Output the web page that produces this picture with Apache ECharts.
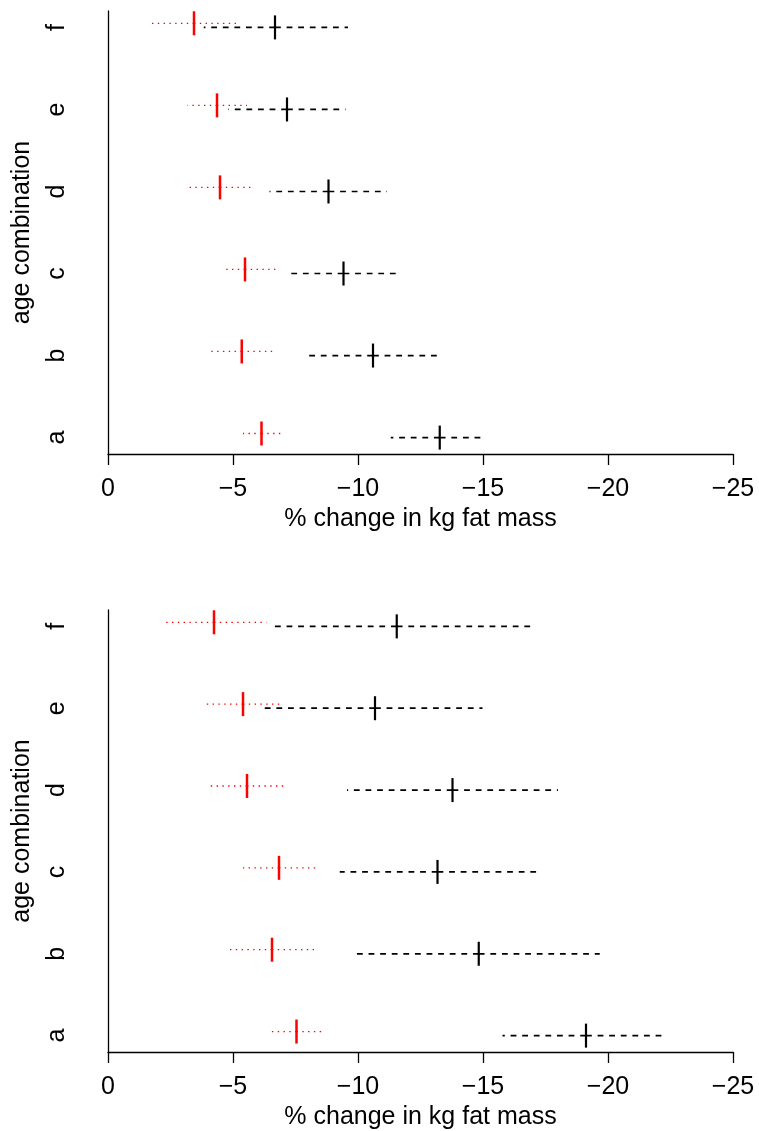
<!DOCTYPE html>
<html>
<head>
<meta charset="utf-8">
<title>fat mass change</title>
<script src="https://cdn.jsdelivr.net/npm/echarts@6/dist/echarts.min.js"></script>
<style>
  html, body { margin: 0; padding: 0; background: #fff; }
  #main { width: 759px; height: 1131px; }
</style>
</head>
<body>
<div id="main"></div>
<script>
// categories, bottom to top
const cats = ['a', 'b', 'c', 'd', 'e', 'f'];
const xTicks = [0, -5, -10, -15, -20, -25];

// top panel: red (dotted) and black (dashed) estimates with limits
const redLo1 = [-5.4, -4.08, -4.63, -3.23, -3.18, -1.74];
const redPt1 = [-6.14, -5.35, -5.48, -4.48, -4.36, -3.44];
const redHi1 = [-6.99, -6.71, -6.74, -5.86, -5.56, -5.14];
const blkLo1 = [-11.31, -7.88, -7.3, -6.46, -4.82, -3.83];
const blkPt1 = [-13.27, -10.6, -9.42, -8.82, -7.16, -6.68];
const blkHi1 = [-15.03, -13.27, -11.64, -11.16, -9.5, -9.6];

// bottom panel
const redLo2 = [-6.51, -4.84, -5.4, -4.03, -3.83, -2.16];
const redPt2 = [-7.54, -6.56, -6.84, -5.56, -5.4, -4.24];
const redHi2 = [-8.64, -8.24, -8.31, -7.18, -6.96, -6.34];
const blkLo2 = [-15.78, -9.74, -9.27, -9.56, -6.04, -6.6];
const blkPt2 = [-19.12, -14.83, -13.18, -13.78, -10.68, -11.55];
const blkHi2 = [-22.16, -19.67, -17.2, -18.0, -14.98, -17.1];

const FONT = 'Liberation Sans, Arial, Helvetica, sans-serif';
const FS = 25;
const RED_SHIFT = 0.05; // red rows sit a bit above the black ones

function rows(lo, pt, hi, shift) {
  return cats.map((c, i) => [i + 1 + shift, lo[i], pt[i], hi[i]]);
}

// interval drawn from the estimate out to each limit, plus a short vertical tick
function makeRender(color, dash, lw, tickW) {
  return function (params, api) {
    const y = api.value(0);
    const p0 = api.coord([api.value(2), y]);
    const pLo = api.coord([api.value(1), y]);
    const pHi = api.coord([api.value(3), y]);
    const seg = (a, b) => ({
      type: 'line',
      shape: { x1: a[0], y1: a[1], x2: b[0], y2: b[1] },
      style: { stroke: color, lineWidth: lw, lineDash: dash, lineCap: 'butt' }
    });
    return {
      type: 'group',
      children: [
        seg(p0, pLo),
        seg(p0, pHi),
        {
          type: 'line',
          shape: { x1: p0[0], y1: p0[1] - 12, x2: p0[0], y2: p0[1] + 12 },
          style: { stroke: color, lineWidth: tickW }
        }
      ]
    };
  };
}

function xAxisFor(idx) {
  return {
    gridIndex: idx,
    type: 'value',
    inverse: true,
    min: -25,
    max: 0,
    interval: 5,
    name: '% change in kg fat mass',
    nameLocation: 'middle',
    nameGap: 53,
    nameTextStyle: { color: '#000', fontSize: FS, fontFamily: FONT },
    axisLine: { show: true, lineStyle: { color: '#000', width: 1.3 } },
    axisTick: { show: true, length: 11, lineStyle: { color: '#000', width: 1.3 } },
    axisLabel: {
      color: '#000', fontSize: FS, fontFamily: FONT, margin: 23,
      formatter: v => (v === 0 ? '0' : '\u2212' + Math.abs(v))
    },
    splitLine: { show: false }
  };
}

function yAxisFor(idx) {
  return {
    gridIndex: idx,
    type: 'value',
    min: 0.8,
    max: 6.2,
    name: 'age combination',
    nameLocation: 'middle',
    nameRotate: 90,
    nameGap: 73,
    nameTextStyle: { color: '#000', fontSize: FS, fontFamily: FONT },
    axisLine: { show: true, lineStyle: { color: '#000', width: 1.3 } },
    axisTick: { show: false },
    axisLabel: {
      show: true,
      customValues: [1, 2, 3, 4, 5, 6],
      rotate: 90,
      margin: 38,
      color: '#000', fontSize: FS, fontFamily: FONT,
      formatter: v => cats[Math.round(v) - 1]
    },
    splitLine: { show: false }
  };
}

function seriesFor(idx, lo, pt, hi, color, dash, lw, tickW, shift) {
  return {
    type: 'custom',
    xAxisIndex: idx,
    yAxisIndex: idx,
    renderItem: makeRender(color, dash, lw, tickW),
    encode: { x: [1, 2, 3], y: 0 },
    data: rows(lo, pt, hi, shift),
    clip: false,
    silent: true
  };
}

const chart = echarts.init(document.getElementById('main'));
const option = {
  backgroundColor: '#fff',
  animation: false,
  grid: [
    { left: 108, right: 26, top: 11, height: 443 },
    { left: 108, right: 26, top: 610, height: 443 }
  ],
  xAxis: [xAxisFor(0), xAxisFor(1)],
  yAxis: [yAxisFor(0), yAxisFor(1)],
  series: [
    seriesFor(0, blkLo1, blkPt1, blkHi1, '#000', [5.8, 5.8], 1.7, 2.2, 0),
    seriesFor(0, redLo1, redPt1, redHi1, '#ff0000', [1.4, 4.4], 1.3, 2.5, RED_SHIFT),
    seriesFor(1, blkLo2, blkPt2, blkHi2, '#000', [5.8, 5.8], 1.7, 2.2, 0),
    seriesFor(1, redLo2, redPt2, redHi2, '#ff0000', [1.4, 4.4], 1.3, 2.5, RED_SHIFT)
  ]
};
chart.setOption(option);
</script>
</body>
</html>
